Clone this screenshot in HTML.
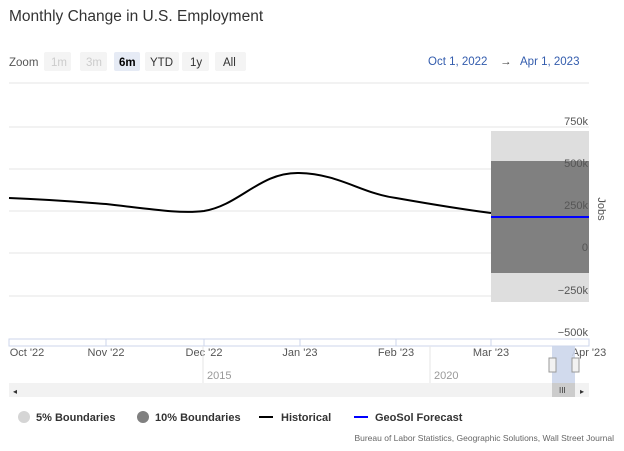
<!DOCTYPE html><html><head><style>
body{margin:0;background:#fff;font-family:"Liberation Sans",sans-serif;}
svg text{font-family:"Liberation Sans",sans-serif;}
</style></head><body>
<svg width="624" height="446" xmlns="http://www.w3.org/2000/svg">
<text x="9" y="21" font-size="15.5" fill="#333">Monthly Change in U.S. Employment</text>
<text x="9" y="66" font-size="11.5" fill="#555">Zoom</text>
<rect x="44" y="52" width="27" height="19" fill="#f4f4f4" rx="2"/><text x="51" y="66" font-size="11.5" fill="#ccc">1m</text>
<rect x="80" y="52" width="27" height="19" fill="#f4f4f4" rx="2"/><text x="86" y="66" font-size="11.5" fill="#ccc">3m</text>
<rect x="114" y="52" width="26" height="19" fill="#e6ebf5" rx="2"/><text x="119" y="66" font-size="11.5" font-weight="bold" fill="#000">6m</text>
<rect x="145" y="52" width="34" height="19" fill="#f4f4f4" rx="2"/><text x="150" y="66" font-size="11.5" fill="#333">YTD</text>
<rect x="182" y="52" width="27" height="19" fill="#f4f4f4" rx="2"/><text x="190" y="66" font-size="11.5" fill="#333">1y</text>
<rect x="215" y="52" width="31" height="19" fill="#f4f4f4" rx="2"/><text x="223" y="66" font-size="11.5" fill="#333">All</text>
<text x="428" y="65" font-size="11.5" fill="#335cad">Oct 1, 2022</text>
<text x="500" y="65" font-size="11.5" fill="#333">→</text>
<text x="520" y="65" font-size="11.5" fill="#335cad">Apr 1, 2023</text>
<line x1="9" y1="83" x2="589" y2="83" stroke="#e6e6e6"/>
<g stroke="#e6e6e6"><line x1="9" y1="127" x2="589" y2="127"/><line x1="9" y1="169" x2="589" y2="169"/><line x1="9" y1="211" x2="589" y2="211"/><line x1="9" y1="253" x2="589" y2="253"/><line x1="9" y1="296" x2="589" y2="296"/></g>
<rect x="491" y="131" width="98" height="171" fill="#dedede"/>
<rect x="491" y="161" width="98" height="112" fill="#808080"/>
<path d="M9,198 C60,200 90,203 106,204 C150,209 180,214 204,211 C240,205 260,172 299,173 C340,174 360,193 396,198 C430,204 460,209 491,213" fill="none" stroke="#000" stroke-width="2"/>
<line x1="491" y1="217" x2="589" y2="217" stroke="#0000ff" stroke-width="2"/>
<g font-size="11" fill="#555" text-anchor="end"><text x="588" y="125">750k</text><text x="588" y="167">500k</text><text x="588" y="209">250k</text><text x="588" y="251">0</text><text x="588" y="294">−250k</text><text x="588" y="336">−500k</text></g>
<text x="598" y="209" font-size="11" fill="#555" transform="rotate(90 598 209)" text-anchor="middle">Jobs</text>
<rect x="9" y="339" width="580" height="7" fill="none" stroke="#ccd6eb"/>
<g stroke="#ccd6eb"><line x1="106" y1="339" x2="106" y2="346"/><line x1="204" y1="339" x2="204" y2="346"/><line x1="300" y1="339" x2="300" y2="346"/><line x1="396" y1="339" x2="396" y2="346"/><line x1="491" y1="339" x2="491" y2="346"/></g>
<g font-size="11" fill="#555" text-anchor="middle"><text x="27" y="356">Oct '22</text><text x="106" y="356">Nov '22</text><text x="204" y="356">Dec '22</text><text x="300" y="356">Jan '23</text><text x="396" y="356">Feb '23</text><text x="491" y="356">Mar '23</text><text x="589" y="356">Apr '23</text></g>
<line x1="203" y1="346" x2="203" y2="383" stroke="#e6e6e6"/><line x1="430" y1="346" x2="430" y2="383" stroke="#e6e6e6"/>
<text x="207" y="379" font-size="11" fill="#999">2015</text><text x="434" y="379" font-size="11" fill="#999">2020</text>
<rect x="552" y="346" width="23" height="37" fill="#ccd6eb" opacity="0.9"/>
<rect x="549" y="358" width="7" height="14" fill="#f2f2f2" stroke="#999"/><rect x="572" y="358" width="7" height="14" fill="#f2f2f2" stroke="#999"/>
<rect x="9" y="383" width="580" height="14" fill="#f2f2f2"/>
<rect x="552" y="383" width="23" height="14" fill="#ccc"/>
<text x="13" y="394" font-size="8" fill="#333">◂</text><text x="580" y="394" font-size="8" fill="#333">▸</text><text x="559" y="393" font-size="8" fill="#333">III</text>
<circle cx="24" cy="417" r="6" fill="#d5d5d5"/><text x="36" y="421" font-size="11" font-weight="bold" fill="#333">5% Boundaries</text>
<circle cx="143" cy="417" r="6" fill="#808080"/><text x="155" y="421" font-size="11" font-weight="bold" fill="#333">10% Boundaries</text>
<line x1="259" y1="417" x2="273" y2="417" stroke="#000" stroke-width="2"/><text x="281" y="421" font-size="11" font-weight="bold" fill="#333">Historical</text>
<line x1="354" y1="417" x2="368" y2="417" stroke="#0000ff" stroke-width="2"/><text x="375" y="421" font-size="11" font-weight="bold" fill="#333">GeoSol Forecast</text>
<text x="614" y="441" font-size="8.5" fill="#666" text-anchor="end">Bureau of Labor Statistics, Geographic Solutions, Wall Street Journal</text>
</svg></body></html>
